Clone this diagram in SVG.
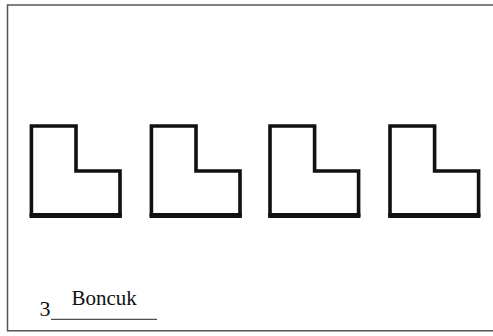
<svg xmlns="http://www.w3.org/2000/svg" width="493" height="336" viewBox="0 0 493 336">
  <style>
    .frame { fill: none; stroke: #555; stroke-width: 1.5; }
    .lshape { fill: #fff; stroke: #111; stroke-width: 3.6; stroke-linejoin: miter; }
    .lbase { stroke: #111; stroke-width: 5; }
    .txt { fill: #111; font-family: "Liberation Serif", "Times New Roman", serif; }
  </style>
  <defs>
    <g id="L">
      <path class="lshape" d="M31.4,126 H76 V171 H120 V215 H31.4 Z"/>
      <line class="lbase" x1="29.6" y1="215.6" x2="121.8" y2="215.6"/>
    </g>
  </defs>
  <rect width="493" height="336" fill="#fff"/>
  <path class="frame" d="M494,5 H7.5 V330.7 H494"/>
  <g id="shape1"><use href="#L"/></g>
  <g id="shape2"><use href="#L" transform="translate(120,0)"/></g>
  <g id="shape3"><use href="#L" transform="translate(238.6,0)"/></g>
  <g id="shape4"><use href="#L" transform="translate(358.6,0)"/></g>
  <g id="label">
    <text class="txt" x="39.5" y="316" font-size="22">3</text>
    <text class="txt" x="71.5" y="305" font-size="21">Boncuk</text>
    <line x1="51" y1="319.3" x2="157" y2="319.3" stroke="#222" stroke-width="1"/>
  </g>
</svg>
